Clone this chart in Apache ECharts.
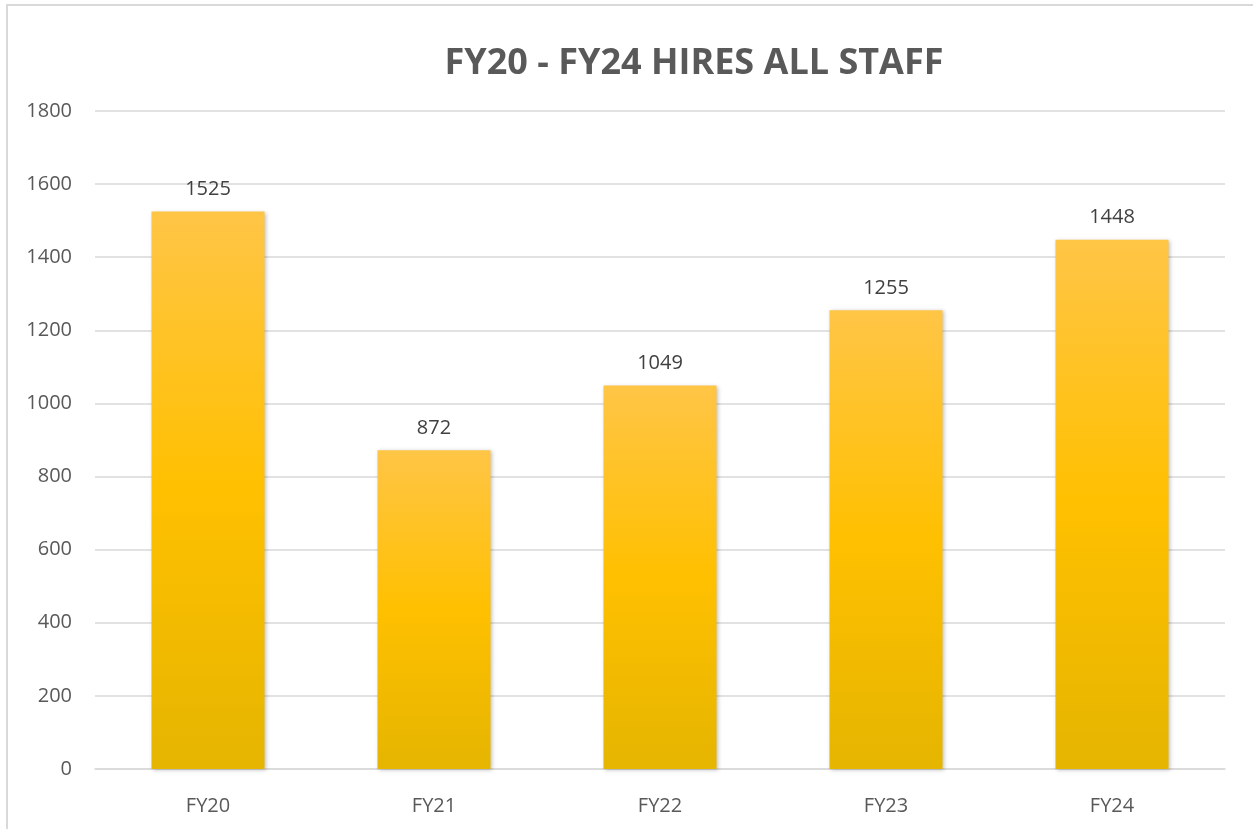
<!DOCTYPE html>
<html>
<head>
<meta charset="utf-8">
<script src="https://cdn.jsdelivr.net/npm/echarts@6/dist/echarts.min.js"></script>
<style>
  html, body { margin: 0; padding: 0; background: #fff; }
  #main { width: 1253px; height: 829px; }
</style>
</head>
<body>
<div id="main"></div>
<script>
var categories = ['FY20', 'FY21', 'FY22', 'FY23', 'FY24'];
var hires = [1525, 872, 1049, 1255, 1448];
var yTicks = [0, 200, 400, 600, 800, 1000, 1200, 1400, 1600, 1800];

var myChart = echarts.init(document.getElementById('main'));
var font = '"Open Sans", "Noto Sans", sans-serif';

var option = {
    backgroundColor: '#fff',
    textStyle: { fontFamily: font },
    title: {
        text: 'FY20 - FY24 HIRES ALL STAFF',
        left: 689,
        textAlign: 'center',
        top: 41,
        textStyle: { fontFamily: font, fontSize: 36, fontWeight: 'bold', color: '#595959' }
    },
    graphic: [{
        type: 'rect',
        shape: { x: 7, y: 5, width: 1260, height: 840 },
        style: { fill: 'none', stroke: '#d9d9d9', lineWidth: 2 },
        silent: true
    }],
    grid: { left: 95, right: 28, top: 111, bottom: 60, containLabel: false },
    xAxis: {
        type: 'category',
        data: categories,
        axisLine: { lineStyle: { color: '#d9d9d9', width: 1.5 } },
        axisTick: { show: false },
        axisLabel: { color: '#595959', fontSize: 20, margin: 27, fontFamily: font }
    },
    yAxis: {
        type: 'value',
        min: yTicks[0],
        max: yTicks[yTicks.length - 1],
        interval: yTicks[1] - yTicks[0],
        axisLine: { show: false },
        axisTick: { show: false },
        axisLabel: {
            color: '#595959', fontSize: 20, margin: 23, fontFamily: font,
            formatter: function (v) { return String(v); }
        },
        splitLine: { lineStyle: { color: '#d9d9d9', width: 1.5 } }
    },
    series: [{
        type: 'bar',
        data: hires,
        barWidth: '50%',
        itemStyle: {
            color: new echarts.graphic.LinearGradient(0, 0, 0, 1, [
                { offset: 0, color: '#ffc546' },
                { offset: 0.5, color: '#ffc000' },
                { offset: 1, color: '#e5b500' }
            ]),
            shadowColor: 'rgba(0,0,0,0.25)',
            shadowBlur: 4,
            shadowOffsetX: 1,
            shadowOffsetY: 1
        },
        label: {
            show: true,
            position: 'top',
            distance: 12,
            color: '#404040',
            fontSize: 20,
            fontFamily: font
        }
    }]
};
myChart.setOption(option);
</script>
</body>
</html>
